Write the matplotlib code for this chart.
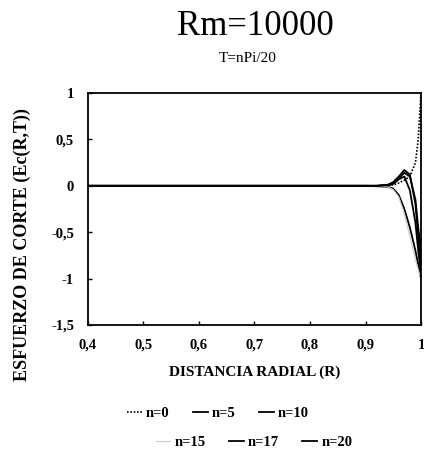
import matplotlib
matplotlib.use("Agg")
from matplotlib import pyplot as plt

# radial positions and shear stress curves for T = n*Pi/20
radius = [0.40, 0.90, 0.92, 0.94, 0.95, 0.96, 0.97, 0.98, 0.99, 0.995, 1.00]
stress_n0 = [0, 0, 0, 0, 0.01, 0.03, 0.06, 0.10, 0.25, 0.50, 1.00]
stress_n5 = [0, 0, 0, 0.01, 0.03, 0.08, 0.14, 0.10, -0.15, -0.45, -0.70]
stress_n10 = [0, 0, -0.005, -0.01, -0.03, -0.10, -0.25, -0.45, -0.70, -0.85, -1.00]
stress_n15 = [0, 0, 0, -0.01, -0.04, -0.12, -0.30, -0.55, -0.80, -0.90, -1.00]
stress_n17 = [0, 0, 0, 0.005, 0.02, 0.07, 0.10, -0.05, -0.40, -0.70, -0.95]
stress_n20 = [0, 0, 0, 0.01, 0.04, 0.10, 0.17, 0.12, -0.20, -0.55, -0.90]

x_ticks = [0.4, 0.5, 0.6, 0.7, 0.8, 0.9, 1.0]
x_tick_labels = ["0,4", "0,5", "0,6", "0,7", "0,8", "0,9", "1"]
y_ticks = [1, 0.5, 0, -0.5, -1, -1.5]
y_tick_labels = ["1", "0,5", "0", "-0,5", "-1", "-1,5"]

plt.rcParams["font.family"] = ["Liberation Serif", "DejaVu Serif"]

fig = plt.figure(figsize=(4.24, 4.51), dpi=100)
ax = fig.add_axes([88 / 424, 1 - 325 / 451, 333 / 424, 232 / 451])

series = [
    ("n=0", stress_n0, dict(color="black", lw=1.2, linestyle=(0, (1, 1)))),
    ("n=5", stress_n5, dict(color="black", lw=1.3)),
    ("n=10", stress_n10, dict(color="black", lw=1.3)),
    ("n=15", stress_n15, dict(color="#cccccc", lw=0.8)),
    ("n=17", stress_n17, dict(color="black", lw=1.3)),
    ("n=20", stress_n20, dict(color="black", lw=1.3)),
]
handles = []
for label, values, style in series:
    line, = ax.plot(radius, values, label=label, **style)
    handles.append(line)

ax.set_xlim(0.4, 1.0)
ax.set_ylim(-1.5, 1.0)
ax.set_xticks(x_ticks)
ax.set_xticklabels(x_tick_labels, fontsize=10.5, fontweight="bold")
ax.set_yticks(y_ticks)
ax.set_yticklabels(y_tick_labels, fontsize=10.5, fontweight="bold")
ax.tick_params(direction="in", length=3, width=1, pad=10)
for spine in ax.spines.values():
    spine.set_linewidth(1.3)

ax.set_xlabel("DISTANCIA RADIAL (R)", fontsize=11, fontweight="bold", labelpad=10)
fig.text(22 / 424, 1 - 245 / 451, "ESFUERZO DE CORTE (Ec(R,T))", rotation=90,
         ha="center", va="center", fontsize=13, fontweight="bold")

fig.text(255 / 424, 1 - 35 / 451, "Rm=10000", ha="center", va="baseline", fontsize=25)
fig.text(248 / 424, 1 - 62 / 451, "T=nPi/20", ha="center", va="baseline", fontsize=11)

legend_kw = dict(ncol=3, frameon=False, prop={"size": 10.5, "weight": "bold"},
                 handlelength=1.0, handletextpad=0.3, columnspacing=1.6,
                 loc="center", bbox_transform=fig.transFigure, borderaxespad=0)
leg1 = ax.legend(handles[:3], [s[0] for s in series[:3]],
                 bbox_to_anchor=(218 / 424, 1 - 413 / 451), **legend_kw)
ax.add_artist(leg1)
ax.legend(handles[3:], [s[0] for s in series[3:]],
          bbox_to_anchor=(254 / 424, 1 - 442 / 451), **legend_kw)

fig.savefig("out.png", dpi=100)
